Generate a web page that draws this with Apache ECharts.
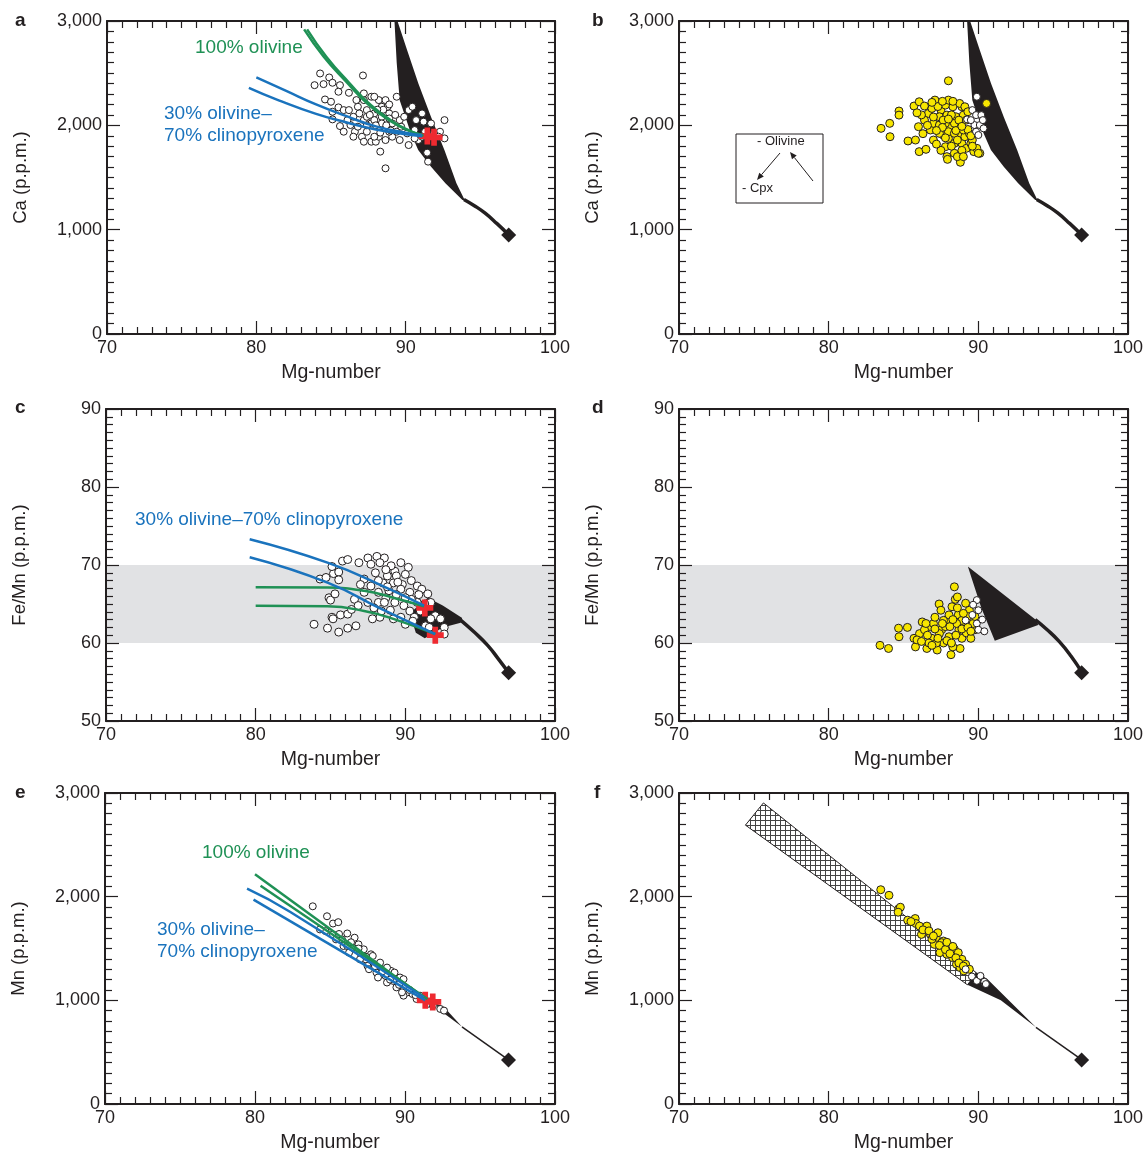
<!DOCTYPE html>
<html>
<head>
<meta charset="utf-8">
<script src="https://cdn.jsdelivr.net/npm/echarts@6/dist/echarts.min.js"></script>
<style>
  html, body { margin: 0; padding: 0; background: #fff; }
  #chart { width: 1147px; height: 1154px; }
</style>
</head>
<body>
<div id="chart"></div>
<script>
// axis ranges / tick labels
const mgTicks = [70, 80, 90, 100]
const caTicks = [0, 1000, 2000, 3000]
const feTicks = [50, 60, 70, 80, 90]
const feBand = [60, 70]

// a: Ca vs Mg-number, open circles
const caOpenA = [[84.27,2497],[84.88,2459],[83.9,2385],[84.5,2395],[85.1,2408],[85.6,2385],[87.14,2478],[85.5,2322],[86.2,2312],
  [84.6,2248],[85.0,2226],[85.5,2172],[85.1,2130],[85.85,2146],[85.1,2057],[85.6,1993],[86.3,2003],[86.6,1939],[87.07,1891],
  [87.7,1843],[88.0,1843],[88.3,1748],[88.65,1588],[87.2,2242],[87.7,2274],[88.2,2242],[88.65,2242],[89.4,2274],[86.8,2178],
  [87.4,2146],[87.9,2114],[88.4,2082],[88.9,2114],[86.5,2082],[87.2,2050],[87.7,2018],[88.2,1987],[88.65,1971],[89.1,2018],
  [89.6,2050],[89.9,2082],[90.2,2146],[90.45,2178],[91.1,2114],[90.7,2050],[91.2,2035],[91.7,2018],[91.44,1738],[91.5,1652],
  [92.6,2050],[92.6,1875],[92.3,1939],[89.6,1859],[90.2,1811],[90.85,1859],[90.1,1923],[89.1,1891],[88.65,1859],[88.2,1891],
  [87.4,1939],[86.8,1987],[86.1,2050],[85.85,1939],[86.5,1891],[87.2,1843],[87.9,1891],[89.4,1939],[88.9,1939],[88.4,2018],
  [87.9,2050],[87.4,2082],[86.9,2114],[86.2,2146],[86.7,2242],[87.2,2306],[87.9,2274],[88.4,2178],[88.8,2178],[88.9,2066],
  [89.7,1987],[90.6,1955],[91.3,1939],[91.9,1923],[92.2,1891],[91.1,1891],[90.6,1875],[88.5,2150],[88.7,2000],[89.0,1950],
  [88.3,1930],[88.0,2000],[87.6,2100],[88.9,2200],[89.3,2100],[88.1,2150],[87.4,2000]]

// b: Ca vs Mg-number, this study (yellow) and white
const caYellowB = [[88.0,2427],[83.5,1971],[84.08,2019],[84.1,1891],[84.7,2137],[84.7,2098],[85.3,1850],[85.8,1859],[86.05,1748],
  [86.5,1770],[86.0,1987],[85.7,2185],[86.05,2226],[86.4,2185],[86.8,1955],[87.0,2019],[87.1,2242],[87.5,2146],[87.4,2082],
  [87.65,1907],[87.8,1795],[87.9,1700],[87.94,1674],[88.4,1732],[88.8,1646],[88.0,1875],[88.4,1827],[88.8,1923],[88.9,1827],
  [89.2,1780],[89.5,1827],[89.7,1748],[90.1,1732],[89.1,1891],[88.1,1987],[88.5,2082],[87.9,2098],[88.9,2178],[89.0,2098],
  [88.6,1987],[88.3,2178],[87.8,2194],[88.0,2242],[88.75,2210],[89.1,2178],[89.4,1923],[89.6,1859],[87.4,1923],[87.0,1859],
  [86.66,2114],[86.4,2050],[87.4,2003],[87.8,2019],[88.0,1939],[88.4,1923],[88.6,1859],[89.0,1955],[88.4,2019],[87.65,2050],
  [86.9,2162],[90.55,2210],[89.9,1780],[90.0,1732],[86.2,2100],[86.6,2000],[87.0,2080],[87.3,2180],[87.6,1980],[87.8,1880],
  [88.2,2100],[88.5,1950],[88.7,2050],[88.9,1760],[89.2,2050],[89.3,2130],[88.2,1800],[87.5,1760],[88.6,1700],[89.0,1700],
  [89.6,1800],[89.3,1960],[86.9,2220],[87.6,2230],[88.3,2230],[85.9,2120],[86.3,1920],[87.2,1950],[88.0,2060],[88.9,1990],
  [89.5,1900],[87.2,1820]]
const caWhiteB = [[89.9,2274],[89.6,2146],[89.85,2098],[90.2,2098],[89.25,2057],[89.74,2003],[90.1,2003],[89.85,1939],
  [90.3,2050],[90.0,1907],[90.35,1971],[89.5,2050]]

// c: Fe/Mn vs Mg-number, open circles
const feOpenC = [[83.9,62.4],[84.8,61.9],[85.55,61.4],[86.15,61.9],[86.7,62.2],[85.1,63.3],[85.17,63.1],[85.67,63.6],[86.15,63.7],
  [84.9,65.8],[85.0,65.5],[85.3,66.3],[84.3,68.2],[84.7,68.4],[85.2,68.9],[85.55,69.1],[85.1,69.8],[85.8,70.5],[86.15,70.7],
  [85.55,68.1],[86.9,70.3],[87.5,70.9],[88.1,71.1],[88.6,70.9],[88.3,70.3],[89.7,70.3],[90.2,69.7],[89.3,69.2],[88.8,68.6],
  [88.0,69.0],[87.25,68.2],[87.0,67.5],[87.7,67.3],[88.5,67.7],[89.2,67.7],[89.8,67.5],[90.4,68.0],[90.8,67.3],[90.3,66.5],
  [89.7,66.9],[88.9,66.7],[88.2,66.5],[87.25,66.5],[86.6,65.6],[86.85,64.8],[86.4,64.3],[87.5,65.2],[88.2,65.2],[88.7,65.8],
  [89.3,65.2],[89.9,64.8],[90.3,64.1],[90.6,63.3],[90.0,62.4],[89.7,63.3],[89.2,63.1],[88.3,63.3],[87.8,63.1],[88.4,64.1],
  [91.1,66.9],[91.5,66.3],[91.7,65.2],[92.0,63.5],[92.35,63.1],[92.6,62.0],[92.6,61.15],[91.7,63.1],[91.35,62.2],[91.0,64.1],
  [90.8,65.2],[90.4,65.6],[87.7,70.1],[89.05,69.9],[89.4,68.6],[90.0,68.8],[88.7,69.4],[88.2,68.0],[88.8,67.2],[89.4,66.2],
  [88.6,65.2],[87.9,64.5],[89.0,64.2],[90.0,65.8],[90.9,66.2],[91.3,65.0],[90.5,62.8],[91.6,62.0],[89.5,67.8]]

// d: Fe/Mn vs Mg-number
const feYellowD = [[83.43,59.7],[84.0,59.3],[84.67,61.9],[84.7,60.8],[85.26,62.0],[85.7,60.6],[85.8,59.5],[86.07,61.2],[86.25,62.7],
  [86.56,59.3],[86.8,62.1],[86.9,60.6],[87.25,59.1],[87.38,65.0],[87.5,64.2],[87.55,61.7],[87.67,60.0],[87.9,63.0],[88.04,60.8],
  [88.17,58.5],[88.24,64.65],[88.4,67.2],[88.46,65.6],[88.6,65.9],[88.66,63.6],[88.7,61.7],[88.78,59.3],[88.9,60.6],[89.03,62.5],
  [89.15,65.1],[89.2,61.3],[89.4,64.2],[89.5,60.6],[87.8,62.1],[87.4,61.2],[87.0,62.5],[86.4,61.7],[85.9,60.4],[88.3,59.5],
  [88.9,62.9],[88.55,62.5],[88.04,63.6],[87.67,62.9],[87.2,60.0],[86.7,60.0],[86.2,60.2],[89.77,61.7],[89.65,62.5],[89.77,63.4],
  [89.27,63.4],[86.6,61.0],[87.1,61.8],[87.6,62.5],[88.1,62.1],[88.5,61.0],[88.9,61.8],[87.9,60.3],[87.3,60.6],[86.9,59.7],
  [88.6,64.5],[89.3,62.0],[88.3,63.0],[87.1,63.3],[86.5,62.5],[89.0,63.8],[88.2,60.0],[89.5,61.5]]
const feWhiteD = [[89.9,65.5],[89.65,64.9],[90.0,64.2],[89.6,63.6],[89.9,62.5],[90.26,63.0],[90.0,61.7],[90.4,61.5],[89.15,62.9]]

// e: Mn vs Mg-number, open circles
const mnOpenE = [[83.85,1907],[84.8,1811],[85.2,1741],[85.55,1754],[85.2,1636],[84.7,1668],[84.33,1684],[86.15,1645],[86.64,1604],
  [85.9,1524],[86.27,1460],[86.9,1540],[87.0,1460],[87.37,1396],[87.73,1444],[87.97,1348],[87.5,1332],[88.1,1268],[88.46,1300],
  [88.7,1236],[89.07,1284],[89.2,1188],[89.67,1220],[89.55,1140],[89.9,1204],[90.16,1077],[89.9,1045],[90.5,1061],[90.77,1013],
  [91.0,1045],[91.5,965],[91.86,949],[92.35,917],[92.6,901],[85.8,1588],[87.25,1492],[87.85,1428],[88.34,1364],[88.8,1316],
  [89.3,1268],[86.5,1508],[87.0,1396],[87.6,1300],[88.2,1220],[88.8,1172],[89.43,1125],[89.8,1077],[85.4,1588],[86.15,1524],
  [86.9,1500],[87.4,1420],[88.0,1330],[88.5,1280],[89.0,1200],[89.6,1150],[90.3,1100],[90.7,1050],[86.4,1560],[85.6,1640]]

// f: Mn vs Mg-number
const mnYellowF = [[83.48,2067],[84.03,2013],[84.67,1882],[84.79,1898],[84.64,1850],[85.28,1773],[85.78,1789],[85.83,1741],
  [86.07,1716],[86.56,1716],[86.2,1636],[86.8,1636],[87.18,1604],[87.06,1540],[87.43,1460],[87.67,1572],[88.04,1524],[88.4,1492],
  [88.28,1412],[88.66,1460],[88.9,1396],[88.54,1348],[88.78,1316],[89.15,1348],[87.9,1444],[87.55,1556],[87.3,1652],[89.03,1284],
  [89.4,1300],[85.5,1760],[86.3,1680],[86.9,1590],[87.4,1530],[87.8,1490],[88.1,1450],[88.5,1410],[88.7,1360],[89.0,1330],
  [86.7,1670],[87.9,1560],[88.3,1520],[87.0,1620]]
const mnWhiteF = [[89.15,1300],[89.57,1230],[89.9,1188],[90.14,1236],[90.4,1179],[90.5,1157]]

// model envelopes (black) and tails to the mantle composition
const caEnvelope = [[89.25,3000],[89.45,3000],[90.1,2720],[90.85,2400],[91.7,2080],[92.6,1760],[93.4,1445],[93.95,1285],
  [93.8,1285],[92.66,1445],[91.7,1604],[90.84,1763],[90.35,1923],[89.6,2240],[89.4,2600]]
const caTail = [[93.9,1290],[94.6,1230],[95.3,1160],[96.1,1060],[96.9,950]]
const feEnvelopeC = [[90.3,63.8],[91.5,65.8],[92.5,64.8],[93.8,63.2],[93.7,62.6],[92.5,62.0],[91.3,60.6],[90.7,61.3]]
const feTailC = [[93.6,63.1],[94.6,61.4],[95.5,59.7],[96.2,58.0],[96.9,56.2]]
const feEnvelopeD = [[89.3,69.8],[89.9,68.9],[93.9,62.9],[94.0,62.3],[91.1,60.3],[90.2,64.5]]
const feTailD = [[93.8,63.0],[94.6,61.7],[95.4,60.2],[96.2,58.3],[96.9,56.3]]
const mnWedgeE = [[92.0,975],[92.6,935],[93.8,745],[92.5,885]]
const mnTailE = [[93.8,745],[96.9,425]]
const mnWedgeF = [[89.27,1150],[89.9,1268],[90.6,1205],[93.85,740],[91.5,1000]]
const mnTailF = [[93.85,740],[96.9,428]]
const mnHatchF = [[74.44,2690],[75.64,2904],[89.9,1262],[89.27,1150]]

// fractional crystallization paths
const caOlivine1 = [[83.2,2920],[84.5,2660],[86,2420],[87.5,2200],[89,2040],[90.2,1950],[91.1,1910]]
const caOlivine2 = [[83.4,2920],[84.7,2655],[86.2,2410],[87.7,2190],[89.2,2030],[90.4,1940],[91.2,1900]]
const caMix1 = [[80,2460],[82,2330],[84,2200],[86,2090],[88,1990],[90,1930],[91.1,1905]]
const caMix2 = [[79.5,2360],[81.5,2240],[84,2110],[86,2030],[88,1960],[90,1915],[91.1,1895]]
const feOlivine1 = [[80,67.15],[84.8,67.1],[87.25,66.7],[89.2,65.8],[91.25,64.7]]
const feOlivine2 = [[80,64.77],[84.8,64.7],[87.25,64.1],[89.2,63.1],[92,61.15]]
const feMix1 = [[79.6,73.3],[84.8,70.3],[88.5,67.3],[91.25,64.8]]
const feMix2 = [[79.6,71.0],[84.8,67.75],[88.46,64.3],[92,61.15]]
const mnOlivine1 = [[80,2217],[91.25,1029]]
const mnOlivine2 = [[80.37,2105],[91.5,1013]]
const mnMix1 = [[79.47,2077],[82.33,1855],[91.25,1029]]
const mnMix2 = [[79.9,1971],[91.35,1000]]

// primary melt (red) and mantle (black) compositions
const caStart = [[91.45,1897],[91.9,1885]]
const feStart = [[91.3,64.5],[92,61.0]]
const mnStart = [[91.35,1000],[91.85,985]]
const caMantle = [[96.9,950]]
const feMantle = [[96.9,56.2]]
const mnMantle = [[96.9,425]]

const FONT = "'Liberation Sans', Arial, sans-serif"
const INK = '#231f20'
const GREEN = '#1f9155'
const BLUE = '#1a73bd'
const RED = '#ee2a30'
const YELLOW = '#f7e600'
const CROSS = 'path://M-2,-6H2V-2H6V2H2V6H-2V2H-6V-2H-2Z'

const grids = [
  { left: 107, top: 21, width: 448, height: 313 },
  { left: 679, top: 21, width: 449, height: 313 },
  { left: 106, top: 409, width: 449, height: 312 },
  { left: 679, top: 409, width: 449, height: 312 },
  { left: 105, top: 793, width: 450, height: 312 },
  { left: 679, top: 793, width: 449, height: 312 }
]
const yInfo = [
  { ticks: caTicks, name: 'Ca (p.p.m.)' },
  { ticks: caTicks, name: 'Ca (p.p.m.)' },
  { ticks: feTicks, name: 'Fe/Mn (p.p.m.)' },
  { ticks: feTicks, name: 'Fe/Mn (p.p.m.)' },
  { ticks: caTicks, name: 'Mn (p.p.m.)' },
  { ticks: caTicks, name: 'Mn (p.p.m.)' }
]

const fmt = v => v >= 1000 ? (v / 1000) + ',000' : String(v)

function axisBase(ticks, showLabel) {
  return {
    type: 'value',
    min: ticks[0],
    max: ticks[ticks.length - 1],
    interval: ticks[1] - ticks[0],
    z: 10,
    axisLine: { show: true, onZero: false, lineStyle: { color: INK, width: 2 } },
    axisTick: { show: true, inside: true, length: 13, lineStyle: { color: INK, width: 1.2 } },
    minorTick: { show: true, inside: true, splitNumber: 10, length: 7, lineStyle: { color: INK, width: 1.2 } },
    axisLabel: { show: showLabel, fontSize: 18, color: INK, fontFamily: FONT, margin: 5, formatter: fmt },
    splitLine: { show: false },
    minorSplitLine: { show: false }
  }
}

const xAxis = []
const yAxis = []
grids.forEach((g, i) => {
  xAxis.push(Object.assign(axisBase(mgTicks, true), {
    gridIndex: i, position: 'bottom', name: 'Mg-number', nameLocation: 'middle', nameGap: 29,
    nameTextStyle: { fontSize: 19.5, color: INK, fontFamily: FONT }
  }))
  xAxis.push(Object.assign(axisBase(mgTicks, false), { gridIndex: i, position: 'top' }))
  yAxis.push(Object.assign(axisBase(yInfo[i].ticks, true), {
    gridIndex: i, position: 'left', name: yInfo[i].name, nameLocation: 'middle', nameGap: 77,
    nameTextStyle: { fontSize: 18.5, color: INK, fontFamily: FONT }
  }))
  yAxis.push(Object.assign(axisBase(yInfo[i].ticks, false), { gridIndex: i, position: 'right' }))
})

// cross-hatch pattern for the parallelogram in f
const hatch = document.createElement('canvas')
hatch.width = 5
hatch.height = 5
const hctx = hatch.getContext('2d')
hctx.fillStyle = '#fff'
hctx.fillRect(0, 0, 5, 5)
hctx.fillStyle = '#444'
hctx.fillRect(0, 0, 5, 1)
hctx.fillRect(0, 0, 1, 5)

function shape(i, pts, fill, stroke) {
  return {
    type: 'custom', xAxisIndex: 2 * i, yAxisIndex: 2 * i, silent: true, data: [pts[0]],
    renderItem: (params, api) => ({
      type: 'polygon',
      shape: { points: pts.map(p => api.coord(p)) },
      style: { fill: fill, stroke: stroke || null, lineWidth: stroke ? 1 : 0 }
    })
  }
}
function curve(i, data, color, width) {
  return {
    type: 'line', xAxisIndex: 2 * i, yAxisIndex: 2 * i, data: data, smooth: true, symbol: 'none',
    silent: true, lineStyle: { color: color, width: width }
  }
}
function dots(i, data, fill, size) {
  return {
    type: 'scatter', xAxisIndex: 2 * i, yAxisIndex: 2 * i, data: data, symbol: 'circle', symbolSize: size,
    silent: true, itemStyle: { color: fill, borderColor: INK, borderWidth: 1, opacity: 1 }
  }
}
function marks(i, data, symbol, color, size) {
  return {
    type: 'scatter', xAxisIndex: 2 * i, yAxisIndex: 2 * i, data: data, symbol: symbol, symbolSize: size,
    silent: true, itemStyle: { color: color, opacity: 1 }
  }
}
function band(i) {
  return shape(i, [[70, feBand[0]], [100, feBand[0]], [100, feBand[1]], [70, feBand[1]]], '#e1e2e4')
}

const series = [
  // a
  shape(0, caEnvelope, INK), curve(0, caTail, INK, 3.5), dots(0, caOpenA, '#fff', 7),
  curve(0, caOlivine1, GREEN, 2.5), curve(0, caOlivine2, GREEN, 2.5),
  curve(0, caMix1, BLUE, 2.5), curve(0, caMix2, BLUE, 2.5),
  marks(0, caStart, CROSS, RED, 17), marks(0, caMantle, 'diamond', INK, 15),
  // b
  shape(1, caEnvelope, INK), curve(1, caTail, INK, 3.5), dots(1, caYellowB, YELLOW, 8), dots(1, caWhiteB, '#fff', 7),
  marks(1, caMantle, 'diamond', INK, 15),
  // c
  band(2), shape(2, feEnvelopeC, INK), curve(2, feTailC, INK, 3.5), dots(2, feOpenC, '#fff', 8),
  curve(2, feOlivine1, GREEN, 2.5), curve(2, feOlivine2, GREEN, 2.5),
  curve(2, feMix1, BLUE, 2.5), curve(2, feMix2, BLUE, 2.5),
  marks(2, feStart, CROSS, RED, 17), marks(2, feMantle, 'diamond', INK, 15),
  // d
  band(3), shape(3, feEnvelopeD, INK), curve(3, feTailD, INK, 3.5), dots(3, feYellowD, YELLOW, 8), dots(3, feWhiteD, '#fff', 7),
  marks(3, feMantle, 'diamond', INK, 15),
  // e
  shape(4, mnWedgeE, INK), curve(4, mnTailE, INK, 1.5), dots(4, mnOpenE, '#fff', 7),
  curve(4, mnOlivine1, GREEN, 2.5), curve(4, mnOlivine2, GREEN, 2.5),
  curve(4, mnMix1, BLUE, 2.5), curve(4, mnMix2, BLUE, 2.5),
  marks(4, mnStart, CROSS, RED, 17), marks(4, mnMantle, 'diamond', INK, 15),
  // f
  shape(5, mnHatchF, { image: hatch, repeat: 'repeat' }, INK), shape(5, mnWedgeF, INK), curve(5, mnTailF, INK, 1.5),
  dots(5, mnYellowF, YELLOW, 8), dots(5, mnWhiteF, '#fff', 7),
  marks(5, mnMantle, 'diamond', INK, 15)
]

function label(text, x, y, color, size, bold) {
  return {
    type: 'text', left: x, top: y, silent: true,
    style: { text: text, fill: color, font: (bold ? 'bold ' : '') + size + 'px ' + FONT }
  }
}
function arrow(x1, y1, x2, y2) {
  const a = Math.atan2(y2 - y1, x2 - x1)
  const L = 7, W = 3
  const bx = x2 - L * Math.cos(a), by = y2 - L * Math.sin(a)
  return [
    { type: 'line', silent: true, shape: { x1: x1, y1: y1, x2: bx, y2: by }, style: { stroke: INK, lineWidth: 1 } },
    { type: 'polygon', silent: true, shape: { points: [[x2, y2],
      [bx + W * Math.sin(a), by - W * Math.cos(a)], [bx - W * Math.sin(a), by + W * Math.cos(a)]] }, style: { fill: INK } }
  ]
}

const graphic = [
  label('a', 15, 11, INK, 19, true), label('b', 592, 11, INK, 19, true),
  label('c', 15, 398, INK, 19, true), label('d', 592, 398, INK, 19, true),
  label('e', 15, 783, INK, 19, true), label('f', 594, 783, INK, 19, true),
  label('100% olivine', 195, 38, GREEN, 19),
  label('30% olivine–', 164, 104, BLUE, 19),
  label('70% clinopyroxene', 164, 126, BLUE, 19),
  label('30% olivine–70% clinopyroxene', 135, 510, BLUE, 19),
  label('100% olivine', 138, 586, GREEN, 19),
  label('100% olivine', 202, 843, GREEN, 19),
  label('30% olivine–', 157, 920, BLUE, 19),
  label('70% clinopyroxene', 157, 942, BLUE, 19),
  { type: 'rect', silent: true, shape: { x: 736, y: 134, width: 87, height: 69 }, style: { fill: '#fff', stroke: INK, lineWidth: 1 } },
  label('- Olivine', 757, 135, INK, 13),
  label('- Cpx', 742, 182, INK, 13)
].concat(arrow(780, 153, 757, 180), arrow(813, 181, 790, 152))

const chart = echarts.init(document.getElementById('chart'), null, { renderer: 'canvas' })
chart.setOption({
  animation: false,
  backgroundColor: '#fff',
  grid: grids,
  xAxis: xAxis,
  yAxis: yAxis,
  series: series,
  graphic: graphic
})
</script>
</body>
</html>
